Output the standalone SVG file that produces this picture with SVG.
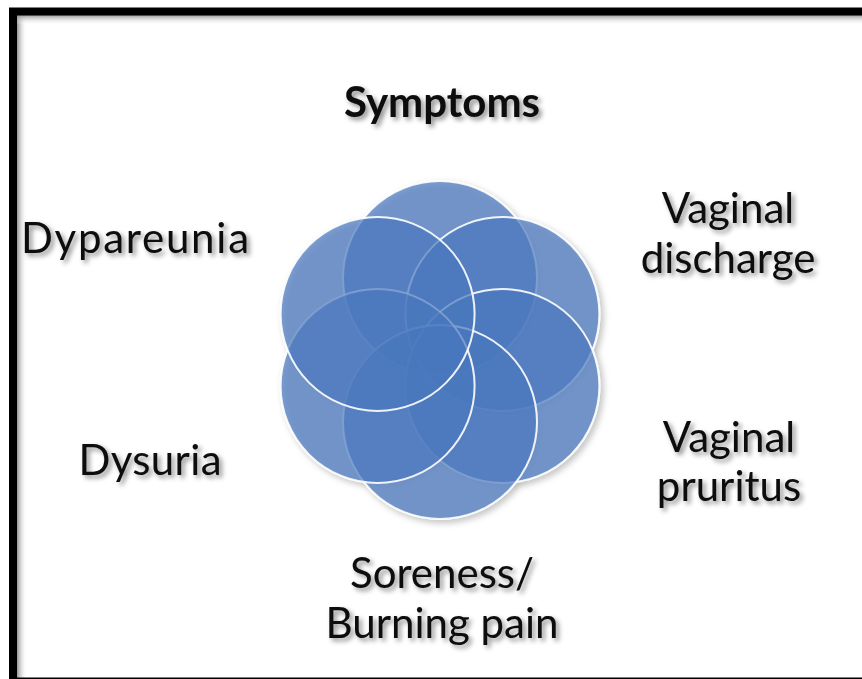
<svg xmlns="http://www.w3.org/2000/svg" width="862" height="679" viewBox="0 0 862 679">
  <defs>
    <style>
      .lbl { font-family: Lato, "Open Sans", "Liberation Sans", sans-serif; font-size: 42px; fill: #0a0a0a; text-anchor: middle; filter: url(#tshadow); }
      .title { font-weight: bold; font-size: 42px; }
      .petal { fill: #4a78bd; fill-opacity: 0.7; stroke: #ffffff; stroke-width: 2; stroke-opacity: 0.9; }
    </style>
    <filter id="tshadow" x="-10%" y="-30%" width="130%" height="170%">
      <feGaussianBlur in="SourceAlpha" stdDeviation="2.5" result="b"/>
      <feOffset dx="3" dy="3" result="o"/>
      <feFlood flood-color="#000" flood-opacity="0.45"/>
      <feComposite in2="o" operator="in" result="s"/>
      <feMerge><feMergeNode in="s"/><feMergeNode in="SourceGraphic"/></feMerge>
    </filter>
    <filter id="cshadow" x="-10%" y="-10%" width="125%" height="125%">
      <feGaussianBlur in="SourceAlpha" stdDeviation="3" result="b"/>
      <feOffset dx="3" dy="3" result="o"/>
      <feFlood flood-color="#000" flood-opacity="0.3"/>
      <feComposite in2="o" operator="in" result="s"/>
      <feMerge><feMergeNode in="s"/><feMergeNode in="SourceGraphic"/></feMerge>
    </filter>
    <linearGradient id="gl" x1="0" y1="0" x2="1" y2="0">
      <stop offset="0" stop-color="#8a8a8a" stop-opacity="0.9"/>
      <stop offset="1" stop-color="#ffffff" stop-opacity="0"/>
    </linearGradient>
    <linearGradient id="gt" x1="0" y1="0" x2="0" y2="1">
      <stop offset="0" stop-color="#8a8a8a" stop-opacity="0.9"/>
      <stop offset="1" stop-color="#ffffff" stop-opacity="0"/>
    </linearGradient>
  </defs>

  <rect x="0" y="0" width="862" height="679" fill="#ffffff"/>

  <g id="frame">
    <rect x="17" y="15" width="10" height="664" fill="url(#gl)"/>
    <rect x="17" y="15" width="845" height="10" fill="url(#gt)"/>
    <rect x="13" y="11.5" width="900" height="670" fill="none" stroke="#000000" stroke-width="8"/>
  </g>

  <g id="flower" filter="url(#cshadow)">
    <circle id="c-top" class="petal" cx="440" cy="278" r="97"/>
    <circle id="c-upper-right" class="petal" cx="502.4" cy="314" r="97"/>
    <circle id="c-lower-right" class="petal" cx="502.4" cy="386" r="97"/>
    <circle id="c-bottom" class="petal" cx="440" cy="422" r="97"/>
    <circle id="c-lower-left" class="petal" cx="377.6" cy="386" r="97"/>
    <circle id="c-upper-left" class="petal" cx="377.6" cy="314" r="97"/>
  </g>

  <g id="connectors"></g>

  <g id="label-symptoms"><text class="lbl title" x="442" y="117">Symptoms</text></g>
  <g id="label-dypareunia"><text class="lbl" x="135" y="253" textLength="228">Dypareunia</text></g>
  <g id="label-vaginal-discharge">
    <text class="lbl" x="728" y="223">Vaginal</text>
    <text class="lbl" x="728" y="273">discharge</text>
  </g>
  <g id="label-vaginal-pruritus">
    <text class="lbl" x="729" y="452">Vaginal</text>
    <text class="lbl" x="729" y="501">pruritus</text>
  </g>
  <g id="label-dysuria"><text class="lbl" x="150" y="475" textLength="143">Dysuria</text></g>
  <g id="label-soreness">
    <text class="lbl" x="442" y="588">Soreness/</text>
    <text class="lbl" x="442" y="638">Burning pain</text>
  </g>
</svg>
